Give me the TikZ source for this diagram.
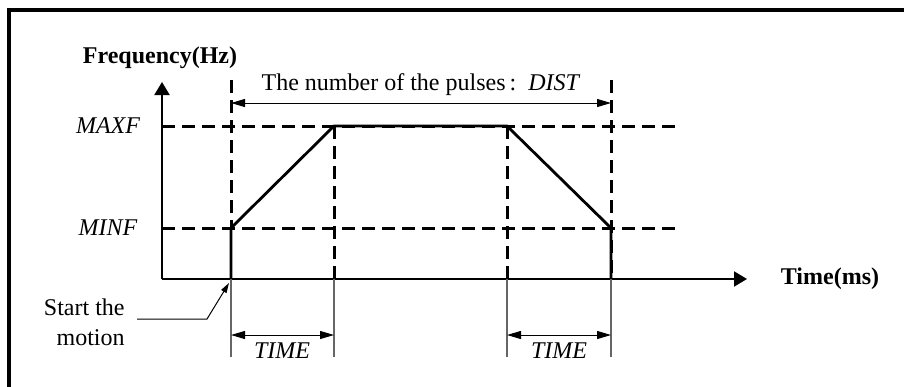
\documentclass[tikz,border=0pt]{standalone}
\usepackage{fontspec}
\setmainfont{Liberation Serif}
\usetikzlibrary{arrows.meta, positioning}

\tikzset{
  axisline/.style={line width=1pt, -{Triangle[length=6.5pt, width=7.5pt]}},
  guide/.style={line width=1.5pt, dash pattern=on 6.5pt off 3.5pt},
  profile/.style={line width=1.4pt, line join=miter},
  extline/.style={line width=0.6pt, black!60},
  dimline/.style={line width=0.5pt, {Triangle[length=7pt, width=4pt]}-{Triangle[length=7pt, width=4pt]}},
  lbl/.style={font=\fontsize{12}{15}\selectfont, inner sep=1pt}
}

\begin{document}
\begin{tikzpicture}[x=0.5pt, y=-0.5pt]
  \useasboundingbox (0,0) rectangle (904,386);
  \clip (0,0) rectangle (904,386);

  % frame
  \draw[line width=1.6pt] (9,400) |- (910,10);

  % axes
  \coordinate (O) at (162,279);
  \coordinate (ytip) at (162,82);
  \coordinate (xtip) at (747,279);
  \draw[axisline] (O) -- (ytip);
  \draw[axisline] (O) -- (xtip);

  % time marks and profile corners
  \coordinate (t1) at (231,279);
  \coordinate (t2) at (334,279);
  \coordinate (t3) at (507,279);
  \coordinate (t4) at (611,279);
  \coordinate (p1) at (231,228);
  \coordinate (p2) at (334,126);
  \coordinate (p3) at (507,126);
  \coordinate (p4) at (611,228);
  \coordinate (top1) at (231,80);
  \coordinate (top4) at (611,80);

  % levels
  \coordinate (maxfL) at (162,126);
  \coordinate (maxfR) at (680,126);
  \coordinate (minfL) at (162,228);
  \coordinate (minfR) at (680,228);
  \draw[guide] (maxfL) -- (maxfR);
  \draw[guide] (minfL) -- (minfR);
  \draw[guide] (top1) -- (p1);
  \draw[guide] (top4) -- (t4);
  \draw[guide] (p2) -- (t2);
  \draw[guide] (p3) -- (t3);

  % frequency profile
  \draw[profile] (t1) -- (p1) -- (p2) -- (p3) -- (p4) -- (t4);

  % labels on axes
  \node[lbl, font=\fontsize{12}{15}\selectfont\bfseries] (freq) at (160,58) {Frequency(Hz)};
  \node[lbl, font=\fontsize{12}{15}\selectfont\bfseries] (time) at (830,279) {Time(ms)};
  \node[lbl, font=\fontsize{12}{15}\selectfont\itshape] (maxf) at (108,126) {MAXF};
  \node[lbl, font=\fontsize{12}{15}\selectfont\itshape] (minf) at (108,228) {MINF};

  % number of pulses
  \coordinate (d1) at (231,103);
  \coordinate (d4) at (611,103);
  \draw[dimline] (d1) -- (d4);
  \node[lbl] (dist) at (421,85) {The number of the pulses\,:\ \ \textit{DIST}};

  % time spans below the axis
  \coordinate (e1) at (231,357);
  \coordinate (e2) at (334,357);
  \coordinate (e3) at (507,357);
  \coordinate (e4) at (611,357);
  \foreach \a/\b in {t1/e1, t2/e2, t3/e3, t4/e4}
    \draw[extline] (\a) -- (\b);
  \coordinate (a1) at (231,335);
  \coordinate (a2) at (334,335);
  \coordinate (a3) at (507,335);
  \coordinate (a4) at (611,335);
  \draw[dimline] (a1) -- (a2);
  \draw[dimline] (a3) -- (a4);
  \node[lbl, font=\fontsize{12}{15}\selectfont\itshape] (time1) at (282,351) {TIME};
  \node[lbl, font=\fontsize{12}{15}\selectfont\itshape] (time2) at (559,351) {TIME};

  % start of motion
  \node[lbl, align=right, anchor=east] (start) at (127,322) {Start the\\motion};
  \coordinate (lead) at (137,319);
  \coordinate (bend) at (207,319);
  \coordinate (leadtip) at (229,283);
  \draw[line width=0.5pt, -{Triangle[length=5pt, width=3pt]}] (lead) -- (bend) -- (leadtip);
\end{tikzpicture}
\end{document}
